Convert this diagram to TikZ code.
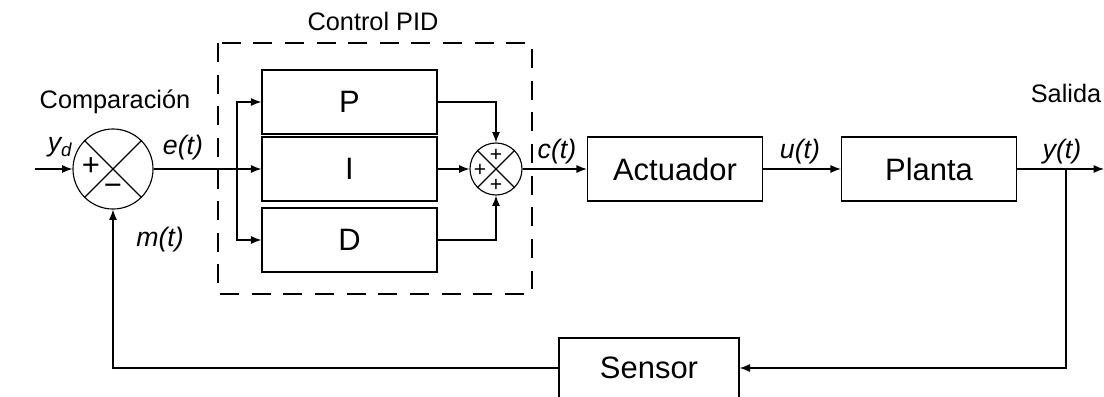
\documentclass[tikz,border=0pt]{standalone}
\usepackage{fontspec}
\setmainfont{Liberation Sans}
\usetikzlibrary{arrows.meta, positioning, calc}

\tikzset{
  block/.style={draw, line width=0.9pt, minimum width=4.375cm, minimum height=1.6cm, inner sep=0pt, font=\fontsize{22}{24}\selectfont},
  sumnode/.style={draw, circle, line width=0.8pt, inner sep=0pt},
  sig/.style={-{Latex[length=2.6mm,width=2mm]}, line width=0.8pt},
  wire/.style={line width=0.8pt},
  lbl/.style={font=\fontsize{19}{22}\selectfont\itshape},
  title/.style={font=\fontsize{18}{20}\selectfont},
  bigsign/.style={font=\fontsize{22}{22}\selectfont, inner sep=0pt},
  smallsign/.style={font=\fontsize{15}{15}\selectfont, inner sep=0pt},
  pidframe/.style={line width=1.5pt, dash pattern=on 13.5pt off 9pt}
}

\begin{document}
\begin{tikzpicture}[x=0.025cm, y=-0.025cm]
  \useasboundingbox (0,0) rectangle (1104,396);

  % Comparador
  \coordinate (in) at (35,169);
  \node[sumnode, minimum size=2cm] (cmp) at (113,169) {};
  \draw[wire] (cmp.north west) -- (cmp.south east) (cmp.north east) -- (cmp.south west);
  \node[bigsign] (cmpplus) at (91,167) {+};
  \node[bigsign] (cmpminus) at (113,190) {−};
  \draw[sig] (in) -- (cmp.west);
  \node[title] (cmptxt) at (115,102) {Comparación};
  \node[lbl] (yd) at (60,147) {y\textsubscript{\itshape d}};

  % Control PID
  \draw[pidframe] (218,43) rectangle (532,294);
  \node[title] (pidtxt) at (373,21) {Control PID};
  \node[block] (P) at (349.5,102) {P};
  \node[block] (I) at (349.5,169) {I};
  \node[block] (D) at (349.5,240) {D};
  \coordinate (split) at (237,169);
  \draw[wire] (cmp.east) -- (split);
  \draw[sig] (split) |- (P.west);
  \draw[sig] (split) -- (I.west);
  \draw[sig] (split) |- (D.west);
  \node[lbl] (e) at (183,148) {e(t)};

  % Sumador
  \node[sumnode, minimum size=1.3cm] (sum) at (496,169) {};
  \draw[wire] (sum.north west) -- (sum.south east) (sum.north east) -- (sum.south west);
  \node[smallsign] (sumtop) at (496,155) {+};
  \node[smallsign] (sumleft) at (480,170) {+};
  \node[smallsign] (sumbot) at (496,185) {+};
  \draw[sig] (P.east) -| (sum.north);
  \draw[sig] (I.east) -- (sum.west);
  \draw[sig] (D.east) -| (sum.south);

  % Actuador y planta
  \node[block] (act) at (675,169) {Actuador};
  \node[block] (planta) at (929,169) {Planta};
  \draw[sig] (sum.east) -- (act.west);
  \draw[sig] (act.east) -- (planta.west);
  \node[lbl] (c) at (557,152) {c(t)};
  \node[lbl] (u) at (800,152) {u(t)};

  % Salida
  \coordinate (tap) at (1066,169);
  \coordinate (out) at (1104,169);
  \draw[sig] (planta.east) -- (out);
  \node[lbl] (y) at (1062,152) {y(t)};
  \node[title] (saltxt) at (1066,93) {Salida};

  % Realimentacion
  \node[block, minimum width=4.5cm, minimum height=1.5cm] (sensor) at (649,368) {Sensor};
  \draw[sig] (tap) |- (sensor.east);
  \draw[sig] (sensor.west) -| (cmp.south);
  \node[lbl] (m) at (160,240) {m(t)};
\end{tikzpicture}
\end{document}
